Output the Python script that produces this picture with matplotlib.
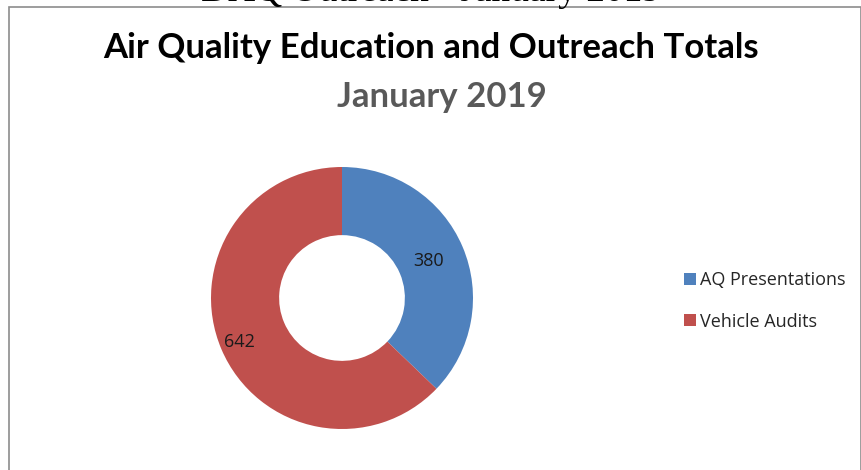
import matplotlib
matplotlib.use("Agg")
import matplotlib.pyplot as plt
from matplotlib.patches import Rectangle
import numpy as np

# data
categories = ["AQ Presentations", "Vehicle Audits"]
values = [380, 642]
colors = ["#4F81BD", "#C0504D"]

title = "Air Quality Education and Outreach Totals"
subtitle = "January 2019"
page_header = "DAQ Outreach - January 2019"

W, H = 862, 470
fig = plt.figure(figsize=(W / 100, H / 100), dpi=100)
fig.patch.set_facecolor("white")

# cut off page heading above the chart frame
fig.text(431 / W, 1 - 1 / H, page_header, ha="center", va="baseline",
         fontsize=27, family="Liberation Serif", color="black")

# chart frame
fig.patches.append(Rectangle((9 / W, -0.1), (861 - 9) / W, 1.1 - 7 / H,
                             transform=fig.transFigure, fill=False,
                             edgecolor="#8c8c8c", lw=1.2, zorder=-1))

fig.text(431 / W, 1 - 48 / H, title, ha="center", va="center",
         fontsize=25, fontweight="bold", family="Lato", color="black")
fig.text(442 / W, 1 - 97 / H, subtitle, ha="center", va="center",
         fontsize=25, fontweight="bold", family="Lato", color="#595959")

# donut
cx, cy, r = 342, 298, 131
ax = fig.add_axes([(cx - r) / W, (H - cy - r) / H, 2 * r / W, 2 * r / H])
wedges, _ = ax.pie(values, colors=colors, startangle=90, counterclock=False,
                   radius=1, wedgeprops=dict(width=0.52, edgecolor="none"))
total = sum(values)
ax.set_aspect("equal")
ax.set_xlim(-1, 1)
ax.set_ylim(-1, 1)
ax.axis("off")

label_dist = [0.72, 0.85]
angle = 90.0
for v, d in zip(values, label_dist):
    span = 360.0 * v / total
    mid = np.deg2rad(angle - span / 2)
    ax.text(d * np.cos(mid), d * np.sin(mid), str(v), ha="center",
            va="center", fontsize=13, family="Open Sans", color="#1a1a1a")
    angle -= span

fig.legend(wedges, categories, loc="center left",
           bbox_to_anchor=(668 / W, 1 - 301 / H), frameon=False,
           prop=dict(family="Open Sans", size=13), handlelength=0.65,
           handleheight=0.65, handletextpad=0.25, labelspacing=1.3,
           labelcolor="#262626")

fig.savefig("out.png", dpi=100)
